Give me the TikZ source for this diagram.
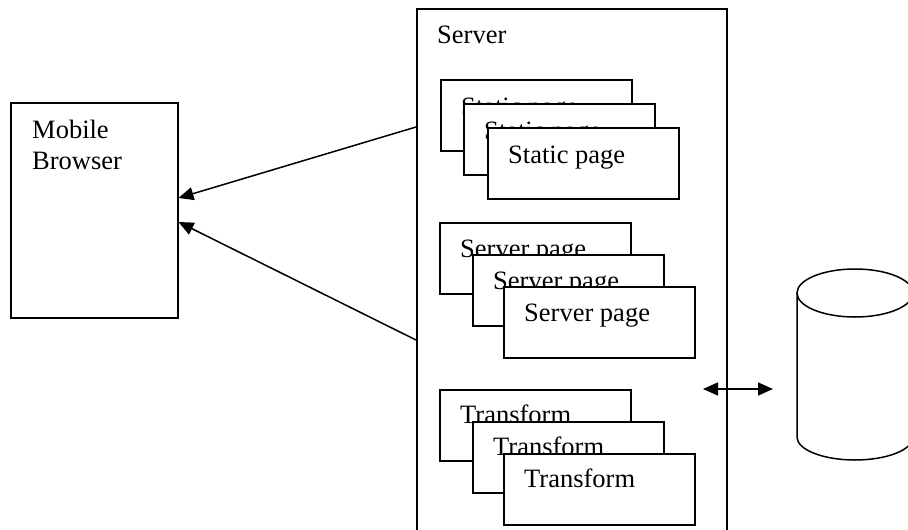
\documentclass[tikz,border=0pt]{standalone}
\usepackage{fontspec}
\setmainfont{Liberation Serif}
\usetikzlibrary{arrows.meta,calc}
\begin{document}
\begin{tikzpicture}[x=1pt,y=-1pt,
  frame/.style={draw, line width=2pt, inner sep=0pt, anchor=north west},
  pagebox/.style={draw, fill=white, line width=2pt, inner sep=0pt, anchor=north west, minimum width=191pt, minimum height=71pt},
  lbl/.style={inner sep=0pt, anchor=base west, font=\fontsize{26.5}{31}\selectfont},
  conn/.style={line width=1.5pt, -{Triangle[length=15pt,width=13pt]}},
  both/.style={line width=1.5pt, {Triangle[length=15pt,width=13pt]}-{Triangle[length=15pt,width=13pt]}}
]
\clip (0,0) rectangle (908,530);
\fill[white] (0,0) rectangle (908,530);

% Mobile browser
\node (browser) [frame, line width=1.5pt, minimum width=167pt, minimum height=215pt] at (10,102) {};
\node (browsertext) [inner sep=0pt, anchor=north west, align=left, font=\fontsize{26.5}{31}\selectfont] at (32,120) {Mobile\\Browser};

% Server frame (open at the bottom)
\node (server) [frame, minimum width=310pt, minimum height=540pt] at (416,8) {};
\node (servertext) [lbl] at (437,43) {Server};

% Static pages
\node (st1) [pagebox] at (440,79) {};
\node (st1t) [lbl] at ($(st1.north west)+(21,36)$) {Static page};
\node (st2) [pagebox] at (463,103) {};
\node (st2t) [lbl] at ($(st2.north west)+(21,36)$) {Static page};
\node (st3) [pagebox] at (487,127) {};
\node (st3t) [lbl] at ($(st3.north west)+(21,36)$) {Static page};

% Server pages
\node (sp1) [pagebox] at (439,222) {};
\node (sp1t) [lbl] at ($(sp1.north west)+(21,35)$) {Server page};
\node (sp2) [pagebox] at (472,254) {};
\node (sp2t) [lbl] at ($(sp2.north west)+(21,35)$) {Server page};
\node (sp3) [pagebox] at (503,286) {};
\node (sp3t) [lbl] at ($(sp3.north west)+(21,35)$) {Server page};

% Transforms
\node (tr1) [pagebox] at (439,389) {};
\node (tr1t) [lbl] at ($(tr1.north west)+(21,34)$) {Transform};
\node (tr2) [pagebox] at (472,421) {};
\node (tr2t) [lbl] at ($(tr2.north west)+(21,34)$) {Transform};
\node (tr3) [pagebox] at (503,453) {};
\node (tr3t) [lbl] at ($(tr3.north west)+(21,34)$) {Transform};

% Connectors to browser
\coordinate (s1) at (server.west |- 0,127);
\coordinate (s2) at (server.west |- 0,340);
\coordinate (b1) at (browser.east |- 0,198);
\coordinate (b2) at (browser.east |- 0,222);
\draw[conn] (s1) -- (b1);
\draw[conn] (s2) -- (b2);

% Database cylinder
\draw[line width=1.5pt] (797,293) -- (797,437) arc[start angle=180, end angle=0, x radius=58, y radius=23] -- (913,293);
\draw[line width=1.5pt] (855,293) ellipse[x radius=58, y radius=24];

% Server <-> database
\coordinate (dbl) at (703,389);
\coordinate (dbr) at (773,389);
\draw[both] (dbl) -- (dbr);
\end{tikzpicture}
\end{document}
